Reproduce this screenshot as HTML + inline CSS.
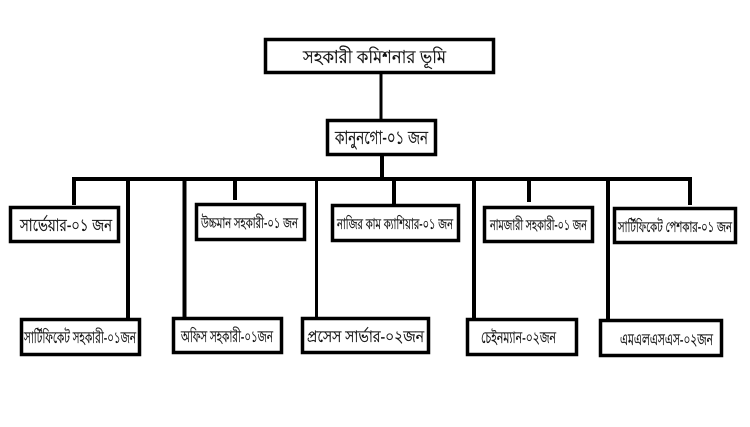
<!DOCTYPE html>
<html lang="bn">
<head>
<meta charset="utf-8">
<style>
html,body{margin:0;padding:0;background:#fff;width:750px;height:427px;overflow:hidden}
svg{display:block}
rect{fill:#fff;stroke:#000;stroke-width:3.5}
line{stroke:#000;stroke-width:4}
text{font-family:"Liberation Sans","Noto Sans CJK JP",sans-serif;fill:#111;stroke:#111;stroke-width:.3;text-anchor:start}
</style>
</head>
<body>
<svg width="750" height="427" viewBox="0 0 750 427" xmlns="http://www.w3.org/2000/svg">
<line x1="381" y1="72" x2="381" y2="120" style="stroke-width:3"/>
<line x1="382" y1="154" x2="382" y2="180"/>
<line x1="72" y1="179" x2="692" y2="179"/>
<line x1="74" y1="179" x2="74" y2="205"/>
<line x1="128" y1="179" x2="128" y2="319"/>
<line x1="184.5" y1="179" x2="184.5" y2="318"/>
<line x1="235" y1="179" x2="235" y2="200"/>
<line x1="316.5" y1="179" x2="316.5" y2="318" style="stroke-width:3"/>
<line x1="394" y1="179" x2="394" y2="205"/>
<line x1="474" y1="179" x2="474" y2="319"/>
<line x1="529" y1="179" x2="529" y2="202"/>
<line x1="608" y1="179" x2="608" y2="320"/>
<line x1="690" y1="179" x2="690" y2="205"/>

<rect x="265.5" y="39.5" width="228" height="33"/>
<rect x="327.5" y="120.5" width="108" height="34"/>

<rect x="10.5" y="207.5" width="108" height="34"/>
<rect x="196.5" y="204.5" width="108" height="35"/>
<rect x="332.5" y="205.5" width="126" height="35"/>
<rect x="484.5" y="207.5" width="108" height="34"/>
<rect x="614.5" y="208.5" width="121" height="34"/>

<rect x="21.5" y="319.5" width="118" height="35"/>
<rect x="173.5" y="318.5" width="108" height="34"/>
<rect x="302.5" y="318.5" width="126" height="34"/>
<rect x="467.5" y="319.5" width="109" height="35"/>
<rect x="600.5" y="320.5" width="121" height="35"/>

<text x="303" y="63" font-size="18" textLength="143" lengthAdjust="spacingAndGlyphs">সহকারী কমিশনার ভূমি</text>
<text x="335" y="144" font-size="19" textLength="93" lengthAdjust="spacingAndGlyphs">কানুনগো-০১ জন</text>

<text x="20" y="231" font-size="17" textLength="92" lengthAdjust="spacingAndGlyphs">সার্ভেয়ার-০১ জন</text>
<text x="201" y="228" font-size="15" textLength="97" lengthAdjust="spacingAndGlyphs">উচ্চমান সহকারী-০১ জন</text>
<text x="337" y="229" font-size="15" textLength="116" lengthAdjust="spacingAndGlyphs">নাজির কাম ক্যাশিয়ার-০১ জন</text>
<text x="490" y="230" font-size="15" textLength="97" lengthAdjust="spacingAndGlyphs">নামজারী সহকারী-০১ জন</text>
<text x="618" y="232" font-size="15" textLength="114" lengthAdjust="spacingAndGlyphs">সার্টিফিকেট পেশকার-০১ জন</text>

<text x="24" y="343" font-size="16" textLength="112" lengthAdjust="spacingAndGlyphs">সার্টিফিকেট সহকারী-০১জন</text>
<text x="181" y="342" font-size="16" textLength="92" lengthAdjust="spacingAndGlyphs">অফিস সহকারী-০১জন</text>
<text x="307" y="342" font-size="16" textLength="117" lengthAdjust="spacingAndGlyphs">প্রসেস সার্ভার-০২জন</text>
<text x="481" y="343" font-size="16" textLength="75" lengthAdjust="spacingAndGlyphs">চেইনম্যান-০২জন</text>
<text x="620" y="345" font-size="16" textLength="93" lengthAdjust="spacingAndGlyphs">এমএলএসএস-০২জন</text>
</svg>
</body>
</html>
